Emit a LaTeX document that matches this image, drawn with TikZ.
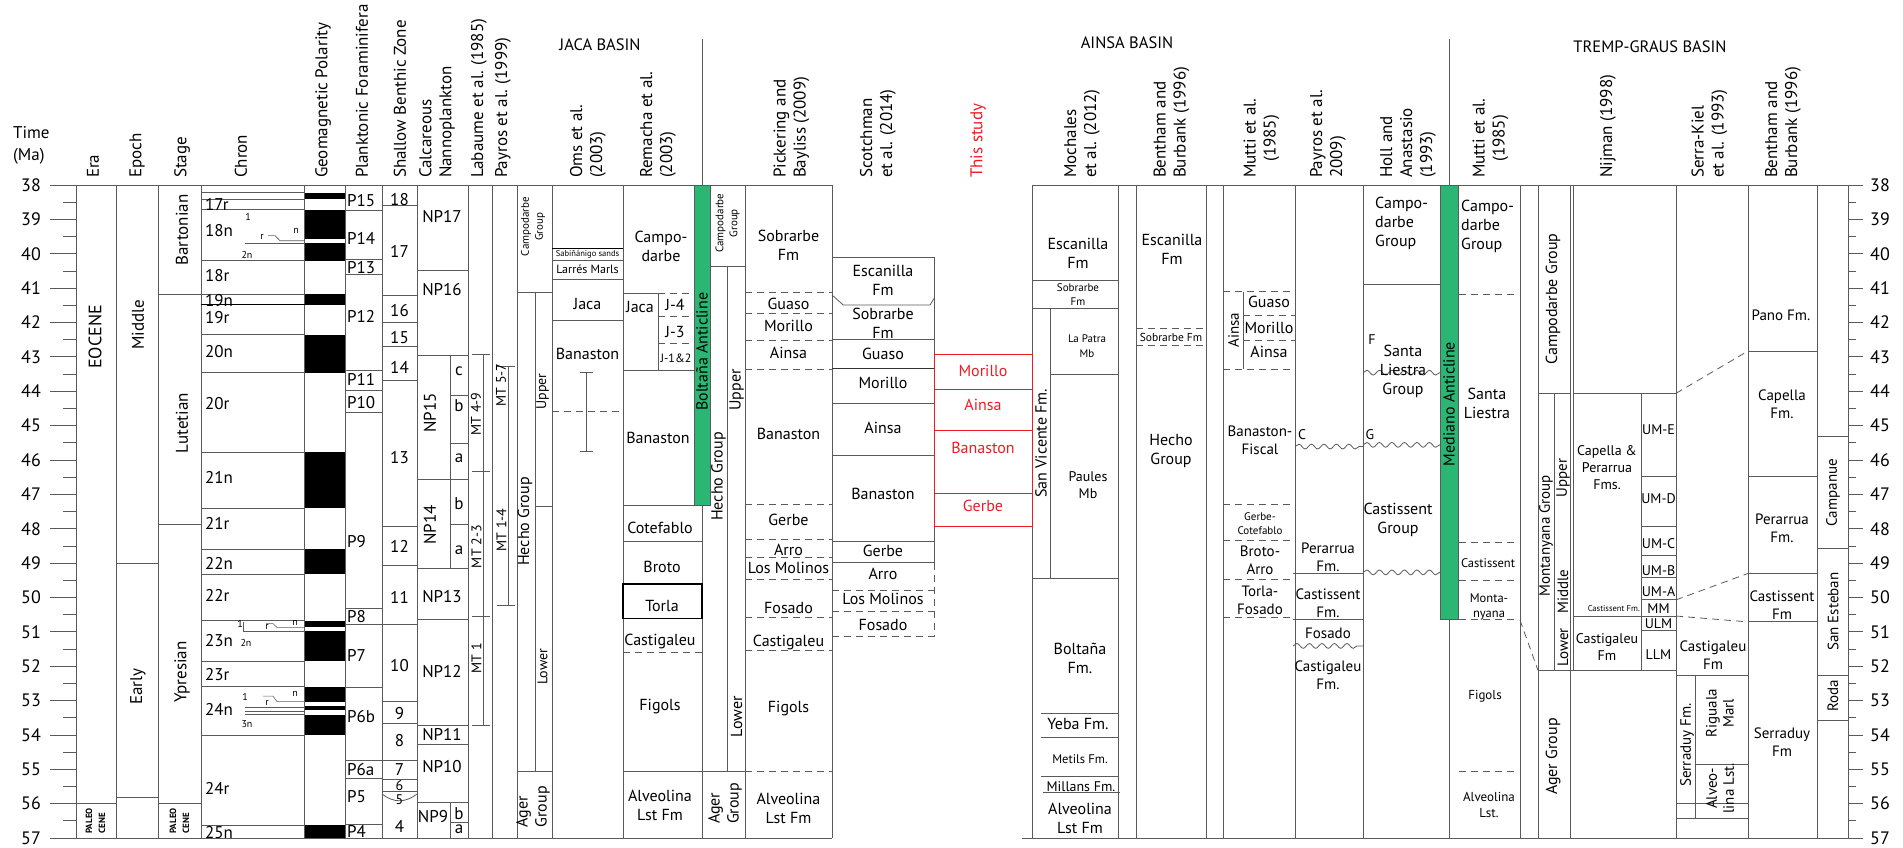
\documentclass[tikz,border=0pt]{standalone}
\usepackage{fontspec}
\setmainfont{PT Sans}
\usepackage{tikz}
\usetikzlibrary{decorations.pathmorphing}
\definecolor{rule}{HTML}{5A5A5A}
\definecolor{anticline}{HTML}{2BB673}
\definecolor{study}{HTML}{ED1C24}
\tikzset{
  bound/.style={draw=rule, line width=0.8pt},
  thin bound/.style={draw=rule, line width=0.6pt},
  heavy/.style={draw=black, line width=1.4pt},
  dashbound/.style={draw=rule, line width=0.8pt, dash pattern=on 7pt off 5pt},
  wavy/.style={draw=rule, line width=0.8pt, decorate,
    decoration={snake, amplitude=2.4pt, segment length=12.5pt}},
  fmlab/.style={font=\fontsize{16}{19}\selectfont, align=center, inner sep=0pt},
  fmmid/.style={font=\fontsize{14}{17}\selectfont, align=center, inner sep=0pt},
  fmsmall/.style={font=\fontsize{12}{14}\selectfont, align=center, inner sep=0pt},
  fmtiny/.style={font=\fontsize{8.5}{10}\selectfont, align=center, inner sep=0pt},
  zonelab/.style={font=\fontsize{17}{20}\selectfont, inner sep=0pt},
  sublab/.style={font=\fontsize{10}{11}\selectfont, inner sep=0pt},
  paleo/.style={font=\fontsize{9}{13}\selectfont\bfseries, align=left, rotate=90, inner sep=0pt},
  colhead/.style={rotate=90, anchor=west, align=left, inner sep=0pt,
    font=\fontsize{17}{20}\selectfont},
  basinhead/.style={font=\fontsize{16.5}{20}\selectfont, inner sep=0pt},
  agelab/.style={font=\fontsize{18}{20}\selectfont, inner sep=0pt},
}

\begin{document}
\begin{tikzpicture}[x=1pt, y=-34.37pt]
  % x in px, y in Ma
  \useasboundingbox (0,32.617) rectangle (1903,57.261);

  % ---------- headers ----------
  \node[agelab, anchor=west, align=left, font=\fontsize{17}{22}\selectfont] (time) at (13,36.84) {Time\\(Ma)};
  \node[basinhead] (jaca) at (600,33.93) {JACA BASIN};
  \node[basinhead] (ainsa) at (1127,33.87) {AINSA BASIN};
  \node[basinhead] (tremp) at (1650,33.98) {TREMP-GRAUS BASIN};
  \draw[bound] (702,33.75) -- (702,38);   % Jaca / Ainsa divide
  \draw[bound] (1449,33.75) -- (1449,38); % Ainsa / Tremp divide

  \node[colhead] (h-era) at (93,37.8) {Era};
  \node[colhead] (h-epoch) at (137,37.8) {Epoch};
  \node[colhead] (h-stage) at (182,37.8) {Stage};
  \node[colhead] (h-chron) at (241,37.8) {Chron};
  \node[colhead] (h-pol) at (323,37.8) {Geomagnetic Polarity};
  \node[colhead] (h-pf) at (362,37.8) {Planktonic Foraminifera};
  \node[colhead] (h-sbz) at (400,37.8) {Shallow Benthic Zone};
  \node[colhead] (h-np) at (437,37.8) {Calcareous\\Nannoplankton};
  \node[colhead] (h-lab) at (479,37.8) {Labaume et al. (1985)};
  \node[colhead] (h-pay99) at (503,37.8) {Payros et al. (1999)};
  \node[colhead] (h-oms) at (588,37.8) {Oms et al.\\(2003)};
  \node[colhead] (h-rem) at (658,37.8) {Remacha et al.\\(2003)};
  \node[colhead] (h-pick) at (791.5,37.8) {Pickering and\\Bayliss (2009)};
  \node[colhead] (h-scot) at (878,37.8) {Scotchman\\et al. (2014)};
  \node[colhead, text=study] (h-study) at (978,37.8) {This study};
  \node[colhead] (h-moch) at (1082,37.8) {Mochales\\et al. (2012)};
  \node[colhead] (h-bb1) at (1171.5,37.8) {Bentham and\\Burbank (1996)};
  \node[colhead, align=center] (h-mut1) at (1261.5,37.8) {Mutti et al.\\(1985)};
  \node[colhead] (h-pay09) at (1328,37.8) {Payros et al.\\2009)};
  \node[colhead] (h-holl) at (1408,37.8) {Holl and\\Anastasio\\(1993)};
  \node[colhead, align=center] (h-mut2) at (1490.5,37.8) {Mutti et al.\\(1985)};
  \node[colhead] (h-nij) at (1608,37.8) {Nijman (1998)};
  \node[colhead] (h-serra) at (1709.5,37.8) {Serra-Kiel\\et al. (1993)};
  \node[colhead] (h-bb2) at (1783,37.8) {Bentham and\\Burbank (1996)};

  % ---------- time scales ----------
  \foreach \t in {38,...,57} {
    \draw[bound] (50,\t) -- (76,\t);
    \draw[bound] (1848,\t) -- (1863,\t);
    \node[agelab] (left\t) at (31,\t) {\t};
    \node[agelab] (right\t) at (1880,\t) {\t};
  }
  \foreach \t in {38.5,39.5,...,56.5} {
    \draw[bound] (63,\t) -- (76,\t);
    \draw[bound] (1848,\t) -- (1856,\t);
  }

  % ---------- anticlines and polarity fills ----------
  \fill[anticline] (694,38) rectangle (710,47.33);
  \draw[bound] (694,38) rectangle (710,47.33);
  \fill[anticline] (1440,38) rectangle (1458,50.63);
  \draw[bound] (1440,38) rectangle (1458,50.63);
  \node[fmlab, rotate=90] (boltana) at (702,42.85) {Boltaña Anticline};
  \node[fmlab, rotate=90] (mediano) at (1449,44.37) {Mediano Anticline};

  \foreach \a/\b in {38.22/38.41, 38.73/39.58, 39.7/40.2, 41.17/41.49, 42.35/43.46,
      45.78/47.41, 48.6/49.33, 50.67/50.87, 50.98/51.84, 52.6/53.03, 53.17/53.27,
      53.42/54.0, 56.62/57}
    \fill[black] (304,\a) rectangle (345,\b);

  % ---------- frame ----------
  \draw[bound] (76,38) -- (832,38);
  \draw[bound] (1032,38) -- (1848,38);
  \draw[bound] (76,57) -- (832,57);
  \draw[bound] (1022,57) -- (1848,57);
  \foreach \x in {76,116,158,201,304,345,382,417,468,492,517,552,623,745,832,
      1032,1118,1136,1206,1223,1295,1363,1520,1538,1570,1676,1748,1817,1848}
    \draw[bound] (\x,38) -- (\x,57);
  \draw[bound] (702,47.33) -- (702,57);
  \draw[bound] (1449,50.63) -- (1449,57);
  \draw[bound] (1573,38) -- (1573,52.13);

  % ---------- era, epoch, stage ----------
  \draw[bound] (76,55.98) -- (116,55.98);
  \draw[bound] (116,49) -- (158,49);
  \draw[bound] (116,55.83) -- (158,55.83);
  \foreach \t in {41.17,47.86,55.98} \draw[bound] (158,\t) -- (201,\t);
  \node[zonelab, rotate=90, font=\fontsize{18}{20}\selectfont] (eocene) at (95,42.42) {EOCENE};
  \node[paleo] (paleo1) at (95.5,56.5) {PALEO\\CENE};
  \node[zonelab, rotate=90] (middle) at (138,42.07) {Middle};
  \node[zonelab, rotate=90] (early) at (138,52.6) {Early};
  \node[zonelab, rotate=90] (barton) at (182,39.31) {Bartonian};
  \node[zonelab, rotate=90] (lutet) at (182,44.93) {Lutetian};
  \node[zonelab, rotate=90] (ypres) at (182,52.17) {Ypresian};
  \node[paleo] (paleo2) at (179.5,56.5) {PALEO\\CENE};

  % ---------- chrons ----------
  \foreach \t in {38.22,38.41,38.72,40.2,41.17,42.35,43.46,45.78,47.41,48.6,49.33,
      50.67,51.87,52.6,54.0,56.62}
    \draw[bound] (201,\t) -- (304,\t);
  \draw[draw=black, line width=1pt] (201,41.49) -- (345,41.49);
  \foreach \t/\c [count=\i] in {38.56/17r, 39.31/18n, 40.62/18r, 41.35/19n, 41.87/19r,
      42.85/20n, 44.35/20r, 46.52/21n, 47.86/21r, 49.0/22n, 49.95/22r, 51.24/23n,
      52.23/23r, 53.25/24n, 55.55/24r, 56.85/25n}
    \node[zonelab, anchor=west] (chron\i) at (205,\t) {\c};
  % subchrons
  \node[sublab] (s18a) at (248,38.93) {1};
  \node[sublab] (s18b) at (262,39.51) {r};
  \node[sublab] (s18c) at (296,39.34) {n};
  \node[sublab] (s18d) at (247,40.04) {2n};
  \draw[thin bound] (268,39.47) -- (275,39.47) -- (280,39.62) -- (304,39.62);
  \draw[thin bound] (245,39.7) -- (304,39.7);
  \node[sublab] (s23a) at (240,50.78) {1};
  \node[sublab] (s23b) at (267,50.87) {r};
  \node[sublab] (s23c) at (295,50.74) {n};
  \node[sublab] (s23d) at (246,51.32) {2n};
  \draw[thin bound] (243,50.7) -- (243,50.98) -- (304,50.98);
  \draw[thin bound] (266,50.76) -- (273,50.76) -- (277,50.87) -- (304,50.87);
  \node[sublab] (s24a) at (245,52.89) {1};
  \node[sublab] (s24b) at (267,53.07) {r};
  \node[sublab] (s24c) at (295,52.81) {n};
  \node[sublab] (s24d) at (247,53.68) {3n};
  \draw[thin bound] (263,52.87) -- (273,52.87) -- (277,53.03) -- (304,53.03);
  \foreach \t in {53.2,53.3,53.4} \draw[thin bound] (245,\t) -- (304,\t);

  % ---------- planktonic foraminifera ----------
  \foreach \t in {38.75,40.16,40.59,43.38,43.98,44.61,50.32,50.77,52.61,54.73,55.26,56.59}
    \draw[bound] (345,\t) -- (382,\t);
  \foreach \t/\c [count=\i] in {38.44/P15, 39.55/P14, 40.4/P13, 41.83/P12, 43.67/P11,
      44.33/P10, 48.38/P9, 50.55/P8, 51.68/P7, 53.47/P6b, 55.0/P6a, 55.8/P5, 56.81/P4}
    \node[zonelab, anchor=west] (pf\i) at (347,\t) {\c};

  % ---------- shallow benthic zones ----------
  \foreach \t in {38.6,41.22,42.01,42.7,43.69,47.94,49.08,50.77,53.03,53.66,54.75,55.29,55.65}
    \draw[bound] (382,\t) -- (417,\t);
  \draw[bound] (382,55.72) .. controls (394,55.98) and (405,55.98) .. (417,55.72);
  \foreach \t/\c [count=\i] in {38.41/18, 39.94/17, 41.66/16, 42.43/15, 43.3/14,
      45.92/13, 48.52/12, 50.0/11, 51.97/10, 53.38/9, 54.15/8, 55.0/7, 56.65/4}
    \node[zonelab] (sbz\i) at (399.5,\t) {\c};
  \node[fmmid] (sbz6) at (399.5,55.48) {6};
  \node[fmmid] (sbz5) at (399.5,55.87) {5};

  % ---------- calcareous nannoplankton ----------
  \foreach \t in {40.49,42.95,46.56,49.15,50.63,53.71,54.27,55.96}
    \draw[bound] (417,\t) -- (468,\t);
  \draw[bound] (450,42.95) -- (450,49.15);
  \draw[bound] (450,55.96) -- (450,57);
  \foreach \t in {44.11,45.52,47.87,56.55} \draw[bound] (450,\t) -- (468,\t);
  \node[zonelab] (np17) at (442,38.92) {NP17};
  \node[zonelab] (np16) at (442,41.05) {NP16};
  \node[zonelab, rotate=90] (np15) at (430,44.63) {NP15};
  \node[zonelab, rotate=90] (np14) at (430,47.89) {NP14};
  \node[zonelab] (np13) at (442,49.98) {NP13};
  \node[zonelab] (np12) at (442,52.16) {NP12};
  \node[zonelab] (np11) at (442,54.0) {NP11};
  \node[zonelab] (np10) at (442,54.92) {NP10};
  \node[zonelab] (np9) at (433,56.38) {NP9};
  \foreach \t/\c [count=\i] in {43.43/c, 44.43/b, 45.95/a, 47.26/b, 48.64/a, 56.28/b, 56.75/a}
    \node[zonelab] (npsub\i) at (459,\t) {\c};

  % ---------- Labaume (1985), Payros (1999) ----------
  \draw[bound] (483.5,42.93) -- (483.5,53.73);
  \foreach \t in {42.93,46.34,50.56,53.73} \draw[bound] (472,\t) -- (490,\t);
  \node[fmmid, rotate=90] (mt49) at (476,44.66) {MT 4-9};
  \node[fmmid, rotate=90] (mt23) at (476.5,48.52) {MT 2-3};
  \node[fmmid, rotate=90] (mt1) at (476.5,51.77) {MT 1};
  \draw[bound] (508.5,43.29) -- (508.5,50.22);
  \foreach \t in {43.29,50.22} \draw[bound] (497,\t) -- (515,\t);
  \node[fmmid, rotate=90] (mt57) at (501,43.82) {MT 5-7};
  \node[fmmid, rotate=90] (mt14) at (501.5,48.04) {MT 1-4};

  % ---------- Jaca basin groups ----------
  \draw[bound] (517,41.12) -- (552,41.12);
  \draw[bound] (535,41.12) -- (535,55.07);
  \draw[bound] (535,47.36) -- (552,47.36);
  \draw[bound] (517,55.07) -- (552,55.07);
  \node[fmsmall, rotate=90, font=\fontsize{11}{14}\selectfont] (oms-cg) at (533,39.21) {Campodarbe\\Group};
  \node[fmlab, rotate=90] (oms-hg) at (525,47.79) {Hecho Group};
  \node[fmmid, rotate=90] (oms-up) at (542.5,44.01) {Upper};
  \node[fmmid, rotate=90] (oms-lo) at (542.5,52.01) {Lower};
  \node[fmlab, rotate=90, align=left] (oms-ag) at (533,56.09) {Ager\\Group};

  % Oms et al. (2003)
  \draw[heavy] (552,39.84) -- (623,39.84);
  \foreach \t in {40.2,40.74,41.95} \draw[bound] (552,\t) -- (623,\t);
  \draw[dashbound] (552,44.6) -- (623,44.6);
  \node[fmtiny] (oms-sab) at (587.5,40.03) {Sabiñánigo sands};
  \node[fmsmall] (oms-lar) at (587.5,40.45) {Larrés Marls};
  \node[fmlab] (oms-jac) at (587.5,41.46) {Jaca};
  \node[fmlab] (oms-ban) at (587.5,42.9) {Banaston};
  \draw[bound] (586.7,43.46) -- (586.7,45.76);
  \draw[bound] (580,43.46) -- (593,43.46);
  \draw[bound] (580,45.76) -- (593,45.76);

  % Remacha et al. (2003)
  \draw[bound] (623,41.15) -- (658,41.15);
  \draw[dashbound] (658,41.15) -- (694,41.15);
  \draw[bound] (658,41.15) -- (658,43.38);
  \foreach \t in {41.83,42.61} \draw[dashbound] (658,\t) -- (694,\t);
  \draw[bound] (623,43.38) -- (694,43.38);
  \foreach \t in {47.33,48.38,55.07} \draw[bound] (623,\t) -- (702,\t);
  \draw[heavy] (623,49.61) rectangle (702,50.61);
  \draw[dashbound] (623,51.61) -- (702,51.61);
  \node[fmlab] (rem-cd) at (661,39.79) {Campo-\\darbe};
  \node[fmlab] (rem-jac) at (640,41.54) {Jaca};
  \node[fmlab] (rem-j4) at (675,41.5) {J-4};
  \node[fmlab] (rem-j3) at (675,42.28) {J-3};
  \node[fmsmall] (rem-j12) at (676,43.05) {J-1\&2};
  \node[fmlab] (rem-ban) at (658,45.37) {Banaston};
  \node[fmlab] (rem-cot) at (660,47.98) {Cotefablo};
  \node[fmlab] (rem-bro) at (662,49.1) {Broto};
  \node[fmlab] (rem-tor) at (662,50.25) {Torla};
  \node[fmlab] (rem-cas) at (660,51.29) {Castigaleu};
  \node[fmlab] (rem-fig) at (660,53.18) {Figols};
  \node[fmlab] (rem-alv) at (660,56.06) {Alveolina\\Lst Fm};

  % groups beside the Boltaña anticline
  \draw[bound] (710,40.38) -- (745,40.38);
  \draw[bound] (727.7,40.38) -- (727.7,55.07);
  \draw[bound] (702,55.07) -- (745,55.07);
  \node[fmsmall, rotate=90, font=\fontsize{11}{14}\selectfont] (bol-cg) at (727.5,39.11) {Campodarbe\\Group};
  \node[fmlab, rotate=90] (bol-hg) at (718.5,46.48) {Hecho Group};
  \node[fmlab, rotate=90] (bol-up) at (736.5,43.96) {Upper};
  \node[fmlab, rotate=90] (bol-lo) at (736.5,53.47) {Lower};
  \node[fmlab, rotate=90, align=left] (bol-ag) at (725,55.99) {Ager\\Group};

  % ---------- Ainsa basin ----------
  % Pickering and Bayliss (2009)
  \foreach \t in {41.12,41.73,42.53,43.36,47.28,48.3,48.83,49.46,50.58,51.55,55.07}
    \draw[dashbound] (745,\t) -- (832,\t);
  \node[fmlab] (pb-sob) at (788.5,39.75) {Sobrarbe\\Fm};
  \foreach \t/\c [count=\i] in {41.45/Guaso, 42.1/Morillo, 42.87/Ainsa, 45.23/Banaston,
      47.75/Gerbe, 48.62/Arro, 49.13/Los Molinos, 50.32/Fosado, 51.3/Castigaleu, 53.23/Figols}
    \node[fmlab] (pb\i) at (788.5,\t) {\c};
  \node[fmlab] (pb-alv) at (788.5,56.14) {Alveolina\\Lst Fm};

  % Scotchman et al. (2014)
  \draw[bound] (832,40.1) -- (934,40.1);
  \draw[bound] (832,40.1) -- (832,48.99);
  \draw[bound] (934,40.1) -- (934,48.99);
  \draw[bound] (832,41.2) -- (843.3,41.49) -- (930,41.49) -- (934,41.3);
  \foreach \t in {42.49,44.35,45.88,48.38,48.99} \draw[bound] (832,\t) -- (934,\t);
  \draw[draw=black!80, line width=1.1pt] (832,43.35) -- (934,43.35);
  \draw[dashbound] (832,48.99) -- (832,51.14);
  \draw[dashbound] (934,48.99) -- (934,51.14);
  \foreach \t in {49.8,50.41,51.14} \draw[dashbound] (832,\t) -- (934,\t);
  \node[fmlab] (sc-esc) at (883,40.78) {Escanilla\\Fm};
  \node[fmlab] (sc-sob) at (883,42.02) {Sobrarbe\\Fm};
  \foreach \t/\c [count=\i] in {42.9/Guaso, 43.77/Morillo, 45.08/Ainsa, 46.99/Banaston,
      48.65/Gerbe, 49.32/Arro, 50.05/Los Molinos, 50.8/Fosado}
    \node[fmlab] (sc\i) at (883,\t) {\c};

  % This study
  \draw[study, line width=0.8pt] (934,42.92) rectangle (1032,47.94);
  \foreach \t in {43.96,45.13,46.97} \draw[study, line width=0.8pt] (934,\t) -- (1032,\t);
  \foreach \t/\c [count=\i] in {43.41/Morillo, 44.4/Ainsa, 45.66/Banaston, 47.33/Gerbe}
    \node[fmlab, text=study] (ts\i) at (983,\t) {\c};

  % Mochales et al. (2012)
  \foreach \t in {40.78,41.59,49.44} \draw[bound] (1032,\t) -- (1118,\t);
  \draw[bound] (1050,41.59) -- (1050,49.44);
  \draw[bound] (1050,43.51) -- (1118,43.51);
  \foreach \t in {53.37,54.08,55.22} \draw[bound] (1041,\t) -- (1118,\t);
  \draw[bound] (1043,55.68) -- (1120,55.68);
  \node[fmlab] (mo-esc) at (1078,39.99) {Escanilla\\Fm};
  \node[fmsmall, font=\fontsize{11}{14}\selectfont] (mo-sob) at (1078,41.18) {Sobrarbe\\Fm};
  \node[fmsmall, font=\fontsize{11}{15}\selectfont] (mo-lp) at (1087,42.68) {La Patra\\Mb};
  \node[fmlab, rotate=90] (mo-sv) at (1041,45.51) {San Vicente Fm.};
  \node[fmmid] (mo-pau) at (1088,46.72) {Paules\\Mb};
  \node[fmlab] (mo-bol) at (1080,51.77) {Boltaña\\Fm.};
  \node[fmlab] (mo-yeb) at (1078,53.68) {Yeba Fm.};
  \node[fmsmall, font=\fontsize{12.5}{14}\selectfont] (mo-met) at (1080,54.7) {Metils Fm.};
  \node[fmmid] (mo-mil) at (1081,55.5) {Millans Fm.};
  \node[fmlab] (mo-alv) at (1080,56.42) {Alveolina\\Lst Fm};

  % Bentham and Burbank (1996)
  \foreach \t in {42.17,42.68} \draw[dashbound] (1136,\t) -- (1206,\t);
  \node[fmlab] (bb-esc) at (1172,39.87) {Escanilla\\Fm};
  \node[fmsmall, font=\fontsize{11.5}{14}\selectfont] (bb-sob) at (1171,42.43) {Sobrarbe Fm};
  \node[fmlab] (bb-hg) at (1171,45.73) {Hecho\\Group};

  % Mutti et al. (1985)
  \foreach \t in {41.1,43.36,47.29,48.35,49.47,50.59} \draw[dashbound] (1223,\t) -- (1295,\t);
  \draw[bound] (1243,41.1) -- (1243,43.36);
  \foreach \t in {41.78,42.51} \draw[dashbound] (1243,\t) -- (1295,\t);
  \node[fmmid, rotate=90, font=\fontsize{15}{17}\selectfont] (mu-ain) at (1233.5,42.22) {Ainsa};
  \foreach \t/\c [count=\i] in {41.39/Guaso, 42.17/Morillo, 42.85/Ainsa}
    \node[fmlab] (mu\i) at (1269,\t) {\c};
  \node[fmmid, font=\fontsize{15}{18}\selectfont] (mu-ban) at (1260,45.44) {Banaston-\\Fiscal};
  \node[fmsmall, font=\fontsize{11}{14}\selectfont] (mu-ger) at (1260,47.84) {Gerbe-\\Cotefablo};
  \node[fmmid, font=\fontsize{15}{18}\selectfont] (mu-bro) at (1260,48.92) {Broto-\\Arro};
  \node[fmmid, font=\fontsize{15}{18}\selectfont] (mu-tor) at (1260,50.09) {Torla-\\Fosado};

  % Payros et al. (2009)
  \draw[wavy] (1295,45.61) -- (1363,45.61);
  \draw[bound] (1293,49.3) -- (1363,49.3);
  \draw[bound] (1293,50.63) -- (1363,50.63);
  \draw[wavy] (1293,51.41) -- (1363,51.41);
  \node[fmmid] (pa-c) at (1302,45.27) {C};
  \node[fmmid, font=\fontsize{15}{18}\selectfont] (pa-per) at (1328,48.83) {Perarrua\\Fm.};
  \node[fmmid, font=\fontsize{15}{18}\selectfont] (pa-cas) at (1328,50.16) {Castissent\\Fm.};
  \node[fmmid, font=\fontsize{15}{18}\selectfont] (pa-fos) at (1328,51.05) {Fosado};
  \node[fmmid, font=\fontsize{15}{18}\selectfont] (pa-cgl) at (1328,52.25) {Castigaleu\\Fm.};

  % Holl and Anastasio (1993)
  \draw[bound] (1363,40.89) -- (1440,40.89);
  \draw[wavy] (1363,43.46) -- (1440,43.46);
  \draw[wavy] (1363,45.56) -- (1440,45.56);
  \draw[wavy] (1363,49.27) -- (1440,49.27);
  \node[fmlab, align=left, anchor=west] (ho-cd) at (1375,39.13) {Campo-\\darbe\\Group};
  \node[fmmid] (ho-f) at (1372,42.51) {F};
  \node[fmlab] (ho-sl) at (1403,43.43) {Santa\\Liestra\\Group};
  \node[fmmid] (ho-g) at (1370,45.27) {G};
  \node[fmlab] (ho-cas) at (1398,47.73) {Castissent\\Group};

  % ---------- Tremp-Graus basin ----------
  % Mutti et al. (1985)
  \foreach \t in {41.17,48.4,49.51,50.63,55.05} \draw[dashbound] (1459,\t) -- (1518,\t);
  \draw[dashbound] (1520,50.66) -- (1538,52.12);
  \node[fmlab, align=left, anchor=west] (mt-cd) at (1461,39.21) {Campo-\\darbe\\Group};
  \node[fmlab] (mt-sl) at (1487,44.34) {Santa\\Liestra};
  \node[fmsmall, font=\fontsize{12.5}{15}\selectfont] (mt-cas) at (1488,49.01) {Castissent};
  \node[fmsmall, font=\fontsize{12.5}{15}\selectfont] (mt-mon) at (1489,50.28) {Monta-\\nyana};
  \node[fmsmall, font=\fontsize{13}{15}\selectfont] (mt-fig) at (1485,52.88) {Figols};
  \node[fmsmall, font=\fontsize{13}{16}\selectfont] (mt-alv) at (1489,56.05) {Alveolina\\Lst.};

  % group column
  \draw[bound] (1538,44.06) -- (1570,44.06);
  \draw[bound] (1554,44.06) -- (1554,52.13);
  \draw[bound] (1538,52.13) -- (1676,52.13);
  \node[fmlab, rotate=90] (gr-cg) at (1553,41.32) {Campodarbe Group};
  \node[fmmid, rotate=90, font=\fontsize{15}{17}\selectfont] (gr-mg) at (1546,48.2) {Montanyana Group};
  \node[fmmid, rotate=90, font=\fontsize{15}{17}\selectfont] (gr-up) at (1563,46.53) {Upper};
  \node[fmmid, rotate=90, font=\fontsize{15}{17}\selectfont] (gr-mi) at (1563,49.83) {Middle};
  \node[fmmid, rotate=90, font=\fontsize{15}{17}\selectfont] (gr-lo) at (1563,51.45) {Lower};
  \node[fmlab, rotate=90] (gr-ag) at (1553,54.63) {Ager Group};

  % Nijman (1998)
  \draw[bound] (1573,44.06) -- (1676,44.06);
  \draw[bound] (1641,44.06) -- (1641,52.13);
  \foreach \t in {46.49,47.92,48.79,49.41,50.07,50.97} \draw[bound] (1641,\t) -- (1676,\t);
  \draw[bound] (1573,50.54) -- (1676,50.54);
  \node[fmmid] (ni-cap) at (1607,46.21) {Capella \&\\Perarrua\\Fms.};
  \node[fmtiny, anchor=east] (ni-cas) at (1640,50.32) {Castissent Fm.};
  \node[fmmid] (ni-cgl) at (1607,51.43) {Castigaleu\\Fm};
  \foreach \t/\c [count=\i] in {45.13/UM-E, 47.13/UM-D, 48.44/UM-C, 49.22/UM-B, 49.83/UM-A,
      50.32/MM, 50.75/ULM, 51.65/LLM}
    \node[fmmid] (um\i) at (1658.5,\t) {\c};
  \draw[dashbound] (1676,44.06) -- (1748,42.83);
  \draw[dashbound] (1676,50.07) -- (1748,49.3);
  \draw[dashbound] (1676,50.54) -- (1748,50.71);

  % Serra-Kiel et al. (1993)
  \draw[bound] (1676,52.26) -- (1748,52.26);
  \draw[bound] (1695,52.26) -- (1695,56.43);
  \draw[bound] (1695,54.86) -- (1748,54.86);
  \draw[bound] (1676,55.99) -- (1748,55.99);
  \draw[bound] (1676,56.43) -- (1748,56.43);
  \node[fmmid, font=\fontsize{15}{18}\selectfont] (sk-cgl) at (1713,51.68) {Castigaleu\\Fm};
  \node[fmmid, rotate=90, font=\fontsize{15}{17}\selectfont] (sk-ser) at (1687,54.29) {Serraduy Fm.};
  \node[fmmid, rotate=90, font=\fontsize{15}{17}\selectfont] (sk-rig) at (1720,53.37) {Riguala\\Marl};
  \node[fmmid, rotate=90, font=\fontsize{15}{17}\selectfont] (sk-alv) at (1720,55.55) {Alveo-\\lina Lst.};

  % Bentham and Burbank (1996)
  \foreach \t in {42.83,46.49,49.3,50.71} \draw[bound] (1748,\t) -- (1817,\t);
  \node[fmmid, font=\fontsize{15}{18}\selectfont] (bt-pan) at (1781,41.78) {Pano Fm.};
  \node[fmmid, font=\fontsize{15}{18}\selectfont] (bt-cap) at (1782,44.38) {Capella\\Fm.};
  \node[fmmid, font=\fontsize{15}{18}\selectfont] (bt-per) at (1782,47.99) {Perarrua\\Fm.};
  \node[fmmid, font=\fontsize{15}{18}\selectfont] (bt-cas) at (1782,50.21) {Castissent\\Fm};
  \node[fmmid, font=\fontsize{15}{18}\selectfont] (bt-ser) at (1782,54.21) {Serraduy\\Fm};

  % last column
  \foreach \t in {45.32,48.57,52.26,53.58} \draw[bound] (1817,\t) -- (1848,\t);
  \node[fmmid, rotate=90, font=\fontsize{15}{17}\selectfont] (lc-cam) at (1833,46.95) {Campanue};
  \node[fmmid, rotate=90, font=\fontsize{15}{17}\selectfont] (lc-san) at (1833,50.41) {San Esteban};
  \node[fmmid, rotate=90, font=\fontsize{15}{17}\selectfont] (lc-rod) at (1833,52.87) {Roda};
\end{tikzpicture}
\end{document}
